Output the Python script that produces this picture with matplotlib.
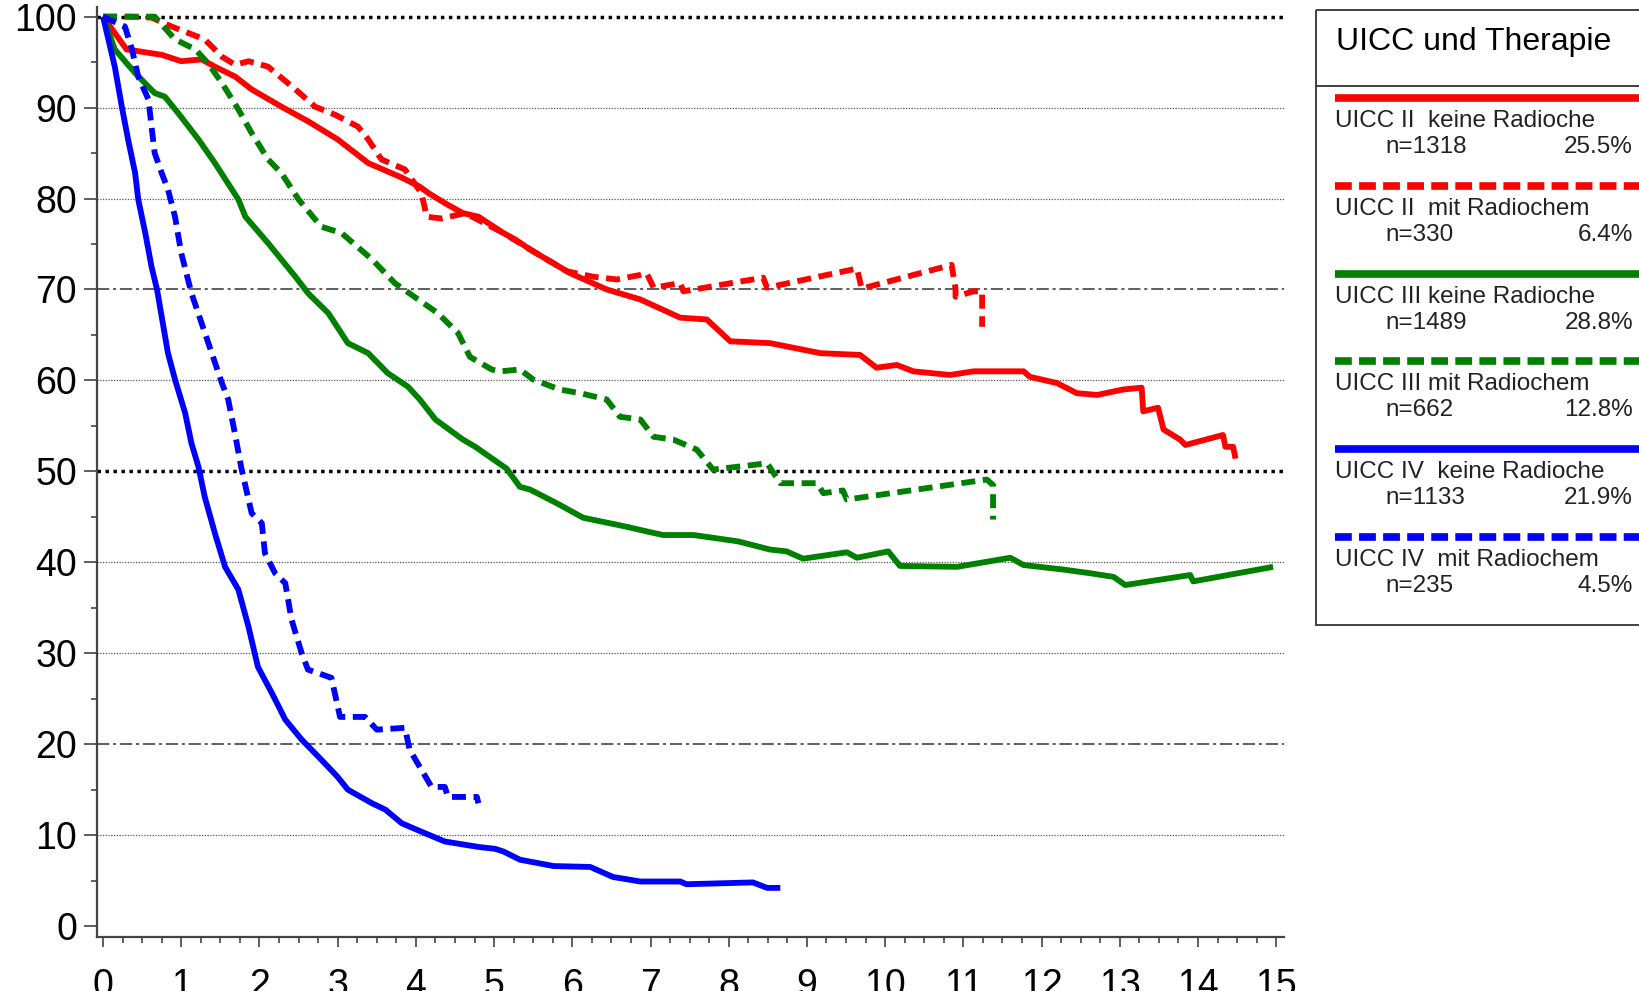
import numpy as np
import matplotlib
matplotlib.use("Agg")
import matplotlib.pyplot as plt
from matplotlib.patches import Rectangle

plt.rcParams['font.family'] = ['Liberation Sans', 'DejaVu Sans']

# -------------------------------
# Daten: Überleben (%) über Jahre
# -------------------------------

# UICC II keine Radiochemo
t_ii_keine = [0, 0.3, 0.75, 1.0, 1.26, 1.43, 1.69, 1.90, 2.28, 2.62, 3.0, 3.39, 3.82, 4.05,
              4.16, 4.41, 4.6, 4.8, 5.12, 5.27, 5.46, 5.97, 6.44, 6.87, 7.38, 7.72, 8.02,
              8.53, 9.17, 9.68, 9.89, 10.15, 10.36, 10.83, 11.13, 11.77, 11.85, 12.2,
              12.45, 12.71, 13.04, 13.28, 13.30, 13.49, 13.56, 13.77, 13.84, 14.32,
              14.35, 14.45, 14.48]
s_ii_keine = [100, 96.4, 95.8, 95.1, 95.3, 94.5, 93.4, 92.0, 90.1, 88.5, 86.5, 83.9, 82.3, 81.3,
              80.6, 79.3, 78.4, 78.0, 76.2, 75.5, 74.4, 71.8, 70.0, 68.9, 66.9, 66.7, 64.3,
              64.1, 63.0, 62.8, 61.4, 61.7, 61.0, 60.6, 61.0, 61.0, 60.4, 59.7,
              58.6, 58.4, 59.0, 59.2, 56.6, 57.0, 54.6, 53.5, 52.9, 54.0,
              52.7, 52.7, 51.4]

# UICC II mit Radiochemo
t_ii_mit = [0, 0.32, 0.62, 0.88, 1.09, 1.30, 1.52, 1.69, 1.86, 2.11, 2.46, 2.71, 2.97, 3.26,
            3.39, 3.56, 3.86, 4.07, 4.14, 4.33, 4.63, 5.12, 5.46, 5.93, 6.27, 6.57, 6.87,
            6.95, 7.04, 7.38, 7.42, 8.44, 8.49, 9.64, 9.70, 10.85, 10.90, 10.90, 11.13,
            11.24, 11.24]
s_ii_mit = [100, 100, 99.9, 98.9, 98.2, 97.5, 95.6, 94.7, 95.1, 94.5, 92.0, 90.1, 89.2, 87.9,
            86.5, 84.3, 83.2, 80.6, 78.0, 77.8, 78.4, 76.2, 74.4, 72.0, 71.4, 71.1, 71.6,
            71.8, 70.2, 70.7, 69.8, 71.3, 70.2, 72.3, 70.1, 72.7, 70.1, 69.2, 69.8,
            69.8, 65.9]

# UICC III keine Radiochemo
t_iii_keine = [0, 0.15, 0.41, 0.66, 0.79, 0.96, 1.22, 1.43, 1.73, 1.82, 2.11, 2.46, 2.62, 2.88,
               3.13, 3.39, 3.64, 3.90, 4.05, 4.25, 4.60, 4.76, 5.16, 5.33, 5.46, 5.80, 6.14,
               6.70, 6.95, 7.16, 7.55, 8.12, 8.53, 8.74, 8.95, 9.51, 9.64, 10.04, 10.19,
               10.92, 11.6, 11.77, 12.28, 12.62, 12.92, 13.07, 13.90, 13.94, 14.96]
s_iii_keine = [100, 96.4, 93.8, 91.6, 91.2, 89.4, 86.5, 83.9, 79.9, 78.0, 75.1, 71.4, 69.6, 67.4,
               64.1, 63.0, 60.8, 59.3, 57.9, 55.7, 53.5, 52.7, 50.3, 48.3, 48.0, 46.5, 44.9,
               43.9, 43.4, 43.0, 43.0, 42.3, 41.4, 41.2, 40.4, 41.1, 40.5, 41.2, 39.6,
               39.5, 40.5, 39.7, 39.2, 38.8, 38.4, 37.5, 38.6, 37.9, 39.5]

# UICC III mit Radiochemo
t_iii_mit = [0, 0.66, 0.92, 1.18, 1.34, 1.52, 1.73, 1.90, 2.11, 2.28, 2.50, 2.79, 3.05, 3.44,
             3.73, 4.03, 4.28, 4.54, 4.69, 4.97, 5.08, 5.33, 5.50, 5.84, 6.10, 6.44, 6.61,
             6.87, 7.04, 7.29, 7.59, 7.80, 8.31, 8.49, 8.66, 9.13, 9.21, 9.46, 9.51, 11.30,
             11.38, 11.38]
s_iii_mit = [100, 100, 97.5, 96.4, 94.9, 92.7, 89.8, 87.2, 84.3, 82.8, 79.9, 76.9, 76.2, 73.3,
             70.7, 68.9, 67.4, 65.2, 62.6, 61.2, 61.0, 61.2, 60.1, 59.0, 58.6, 57.9, 56.0,
             55.7, 53.8, 53.5, 52.4, 50.2, 50.7, 50.9, 48.7, 48.7, 47.6, 47.9, 46.9, 49.1,
             48.5, 44.7]

# UICC IV keine Radiochemo
t_iv_keine = [0, 0.15, 0.24, 0.32, 0.41, 0.45, 0.54, 0.62, 0.69, 0.75, 0.83, 0.92, 1.05, 1.13,
              1.22, 1.30, 1.43, 1.56, 1.73, 1.86, 1.98, 2.16, 2.33, 2.54, 2.79, 3.0, 3.13,
              3.44, 3.61, 3.82, 4.12, 4.37, 4.80, 5.01, 5.12, 5.33, 5.76, 6.23, 6.52, 6.87,
              7.38, 7.46, 8.31, 8.49, 8.66]
s_iv_keine = [100, 94.5, 90.1, 86.5, 82.8, 79.9, 76.2, 72.5, 70.0, 67.0, 63.0, 60.1, 56.4, 53.1,
              50.5, 47.2, 43.2, 39.5, 37.0, 32.9, 28.5, 25.6, 22.7, 20.5, 18.3, 16.4, 15.0,
              13.5, 12.8, 11.3, 10.2, 9.3, 8.7, 8.5, 8.2, 7.3, 6.6, 6.5, 5.4, 4.9,
              4.9, 4.6, 4.8, 4.2, 4.2]

# UICC IV mit Radiochemo
t_iv_mit = [0, 0.28, 0.37, 0.45, 0.58, 0.62, 0.66, 0.75, 0.83, 0.92, 1.0, 1.13, 1.26, 1.39,
            1.52, 1.60, 1.69, 1.77, 1.90, 2.03, 2.07, 2.20, 2.33, 2.41, 2.54, 2.62, 2.92,
            3.03, 3.35, 3.50, 3.86, 3.92, 4.05, 4.20, 4.37, 4.41, 4.78, 4.80]
s_iv_mit = [100, 98.9, 96.4, 93.4, 90.9, 87.9, 85.0, 82.8, 81.0, 78.0, 74.0, 69.6, 66.3, 63.0,
            59.7, 57.9, 54.0, 50.3, 45.4, 44.3, 41.0, 38.8, 37.7, 33.7, 30.0, 28.2, 27.3,
            23.0, 23.0, 21.6, 21.8, 19.4, 17.5, 15.3, 15.3, 14.2, 14.2, 13.5]

legende_titel = "UICC und Therapie"
legende_text = ["UICC II  keine Radioche", "UICC II  mit Radiochem",
                "UICC III keine Radioche", "UICC III mit Radiochem",
                "UICC IV  keine Radioche", "UICC IV  mit Radiochem"]
legende_n = [1318, 330, 1489, 662, 1133, 235]
legende_pct = ["25.5%", "6.4%", "28.8%", "12.8%", "21.9%", "4.5%"]

# Hilfslinien
linien_dick = [100, 50]
linien_strichpunkt = [70, 20]
linien_fein = [90, 80, 60, 40, 30, 10]

# -------------------------------
# Grafik
# -------------------------------

fig = plt.figure(figsize=(16.39, 9.91), dpi=100)
ax = fig.add_axes([0.0592, 0.0545, 0.7242, 0.9388])

for y in linien_dick:
    ax.axhline(y, color='black', lw=2.5, linestyle=(0, (1, 1.3)), zorder=1)
for y in linien_strichpunkt:
    ax.axhline(y, color='#333333', lw=1.1, linestyle=(0, (8, 2.5, 2, 2.5)), zorder=1)
for y in linien_fein:
    ax.axhline(y, color='#555555', lw=0.9, linestyle=(0, (1, 1.2)), zorder=1)

strich = (2.4, 1.3)
lw = 4.2
kurven = [
    (t_ii_keine, s_ii_keine, 'red', None),
    (t_ii_mit, s_ii_mit, 'red', strich),
    (t_iii_keine, s_iii_keine, 'green', None),
    (t_iii_mit, s_iii_mit, 'green', strich),
    (t_iv_keine, s_iv_keine, 'blue', None),
    (t_iv_mit, s_iv_mit, 'blue', strich),
]
for t, s, farbe, dash in kurven:
    line, = ax.plot(t, s, color=farbe, lw=lw, zorder=3, clip_on=False,
                    solid_joinstyle='round', solid_capstyle='butt')
    if dash:
        line.set_dashes(dash)

ax.set_xlim(-0.077, 15.1)
ax.set_ylim(-1.2, 101.1)

ax.set_xticks(np.arange(0, 16, 1))
ax.set_xticks(np.arange(0, 15.01, 0.25), minor=True)
ax.set_yticks(np.arange(0, 101, 10))
ax.set_yticks(np.arange(0, 101, 5), minor=True)

ax.tick_params(axis='both', which='both', direction='out', color='#333333', width=1.1)
ax.tick_params(axis='x', which='major', length=7.5, pad=15, labelsize=27)
ax.tick_params(axis='x', which='minor', length=4.3)
ax.tick_params(axis='y', which='major', length=9.5, pad=5, labelsize=27)
ax.tick_params(axis='y', which='minor', length=4.3)

for seite in ['top', 'right']:
    ax.spines[seite].set_visible(False)
for seite in ['left', 'bottom']:
    ax.spines[seite].set_color('#444444')
    ax.spines[seite].set_linewidth(1.6)

# -------------------------------
# Legende (in Pixelkoordinaten)
# -------------------------------

lax = fig.add_axes([0, 0, 1, 1])
lax.set_xlim(0, 1639)
lax.set_ylim(991, 0)
lax.axis('off')

lax.add_patch(Rectangle((1316, 10), 400, 615, fill=False, ec='#333333', lw=1.3))
lax.plot([1316, 1639], [86, 86], color='#333333', lw=1.3)
lax.text(1336, 42, legende_titel, fontsize=23, va='center', ha='left')

farben = ['red', 'red', 'green', 'green', 'blue', 'blue']
for i in range(6):
    y0 = 98 + i * 87.8
    l, = lax.plot([1335, 1639], [y0, y0], color=farben[i], lw=5.5, solid_capstyle='butt')
    if i % 2 == 1:
        l.set_dashes((2.2, 0.95))
    lax.text(1335, y0 + 23, legende_text[i], fontsize=17.5, va='center', ha='left',
             color='#222222')
    lax.text(1385, y0 + 49, f"n={legende_n[i]}", fontsize=17.5, va='center', ha='left',
             color='#222222')
    lax.text(1633, y0 + 49, legende_pct[i], fontsize=17.5, va='center', ha='right',
             color='#222222')

fig.savefig("out.png", dpi=100)
